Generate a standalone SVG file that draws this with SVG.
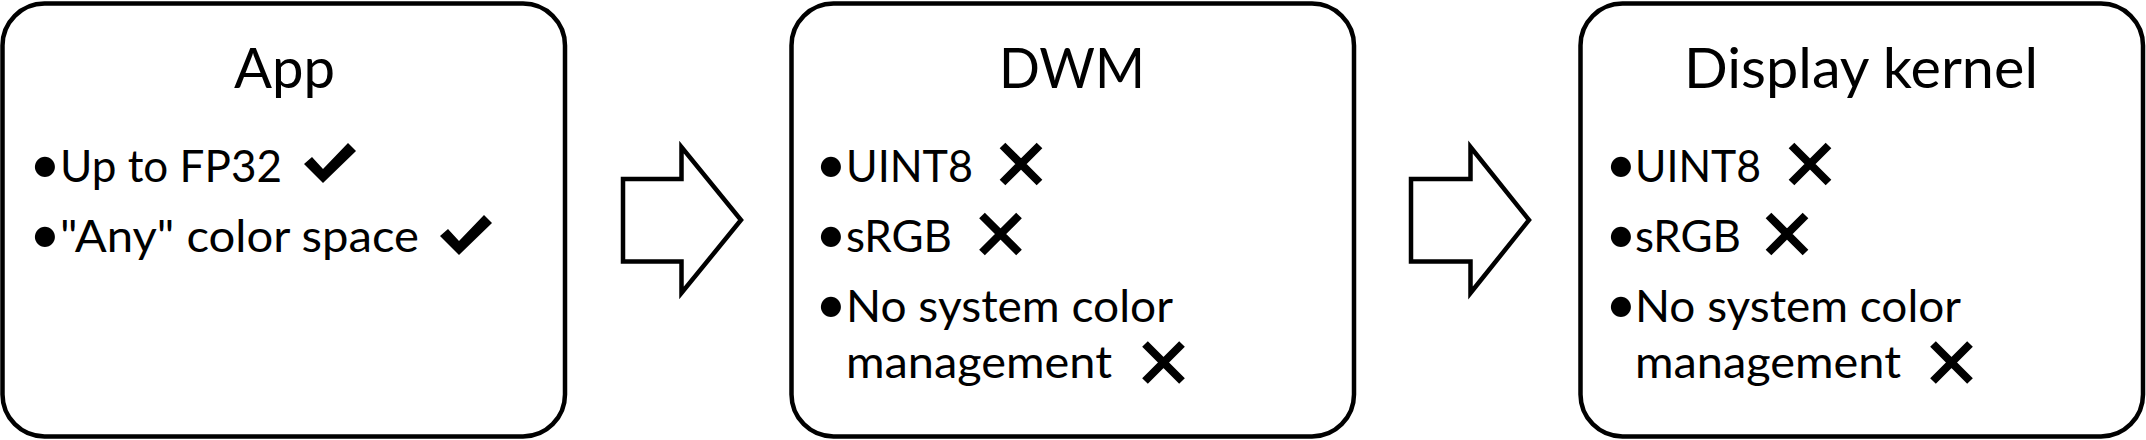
<svg xmlns="http://www.w3.org/2000/svg" xmlns:xlink="http://www.w3.org/1999/xlink" width="2146" height="440" viewBox="0 0 2146 440">
<style>
.box{fill:#fff;stroke:#000;stroke-width:4.5}
.arrow{fill:#fff;stroke:#000;stroke-width:4.5;stroke-linejoin:miter}
.title{font-family:Lato,"Open Sans","Liberation Sans",sans-serif;font-size:56px;fill:#000}
.body{font-family:Lato,"Open Sans","Liberation Sans",sans-serif;font-size:44.5px;fill:#000}
.bullet{font-family:Lato,"Open Sans","Liberation Sans",sans-serif;font-size:54px;fill:#000;text-anchor:middle}
.xm{stroke:#000;stroke-width:8;fill:none}
.ck{fill:#000}
</style>
<defs>
<path id="check" class="ck" d="M0,21 L8,14 L19,26 L44,0 L52,8 L19,40 Z"/>
<path id="xmark" class="xm" d="M-18.5,-18.5 L18.5,18.5 M18.5,-18.5 L-18.5,18.5"/>
</defs>
<rect x="0" y="0" width="2146" height="440" fill="#fff"/>
<g id="connectors">
<polygon class="arrow" points="623,179 681.5,179 681.5,147 741,220 681.5,293 681.5,261.5 623,261.5"/>
<polygon class="arrow" points="1411,179 1470.5,179 1470.5,147 1529,220 1470.5,293 1470.5,261.5 1411,261.5"/>
</g>
<g id="app">
<rect class="box" x="2.5" y="3.5" width="562.5" height="433" rx="42" ry="42"/>
<text class="title" x="234" y="88" textLength="101" lengthAdjust="spacingAndGlyphs">App</text>
<text class="bullet" x="45" y="183">•</text>
<text class="body" x="60" y="182" textLength="222" lengthAdjust="spacingAndGlyphs">Up to FP32</text>
<use xlink:href="#check" href="#check" transform="translate(304,143)"/>
<text class="bullet" x="45" y="253">•</text>
<text class="body" x="60" y="252" textLength="359" lengthAdjust="spacingAndGlyphs">"Any" color space</text>
<use xlink:href="#check" href="#check" transform="translate(440,215)"/>
</g>
<g id="dwm">
<rect class="box" x="791.5" y="3.5" width="562.5" height="433" rx="42" ry="42"/>
<text class="title" x="999" y="88" textLength="146" lengthAdjust="spacingAndGlyphs">DWM</text>
<text class="bullet" x="831" y="183">•</text>
<text class="body" x="846" y="182" textLength="127" lengthAdjust="spacingAndGlyphs">UINT8</text>
<use xlink:href="#xmark" href="#xmark" transform="translate(1021,164)"/>
<text class="bullet" x="831" y="253">•</text>
<text class="body" x="846" y="252" textLength="106" lengthAdjust="spacingAndGlyphs">sRGB</text>
<use xlink:href="#xmark" href="#xmark" transform="translate(1000.5,234)"/>
<text class="bullet" x="831" y="323">•</text>
<text class="body" x="846" y="322" textLength="327" lengthAdjust="spacingAndGlyphs">No system color</text>
<text class="body" x="846" y="378" textLength="266" lengthAdjust="spacingAndGlyphs">management</text>
<use xlink:href="#xmark" href="#xmark" transform="translate(1163.5,362.5)"/>
</g>
<g id="display-kernel">
<rect class="box" x="1580.5" y="3.5" width="562.5" height="433" rx="42" ry="42"/>
<text class="title" x="1684" y="88" textLength="354" lengthAdjust="spacingAndGlyphs">Display kernel</text>
<text class="bullet" x="1621" y="183">•</text>
<text class="body" x="1635" y="182" textLength="126" lengthAdjust="spacingAndGlyphs">UINT8</text>
<use xlink:href="#xmark" href="#xmark" transform="translate(1810,164)"/>
<text class="bullet" x="1621" y="253">•</text>
<text class="body" x="1635" y="252" textLength="106" lengthAdjust="spacingAndGlyphs">sRGB</text>
<use xlink:href="#xmark" href="#xmark" transform="translate(1787,234)"/>
<text class="bullet" x="1621" y="323">•</text>
<text class="body" x="1635" y="322" textLength="326" lengthAdjust="spacingAndGlyphs">No system color</text>
<text class="body" x="1635" y="378" textLength="266" lengthAdjust="spacingAndGlyphs">management</text>
<use xlink:href="#xmark" href="#xmark" transform="translate(1951.5,362.5)"/>
</g>
</svg>
